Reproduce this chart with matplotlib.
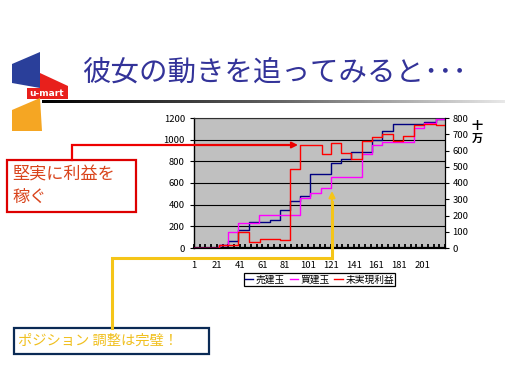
import matplotlib
matplotlib.use('Agg')
import matplotlib.pyplot as plt
import numpy as np
from matplotlib.patches import Polygon, Rectangle
from matplotlib.colors import LinearSegmentedColormap

plt.rcParams['font.family'] = ['Noto Sans CJK JP', 'DejaVu Sans']

# ---------------- data ----------------
title = '彼女の動きを追ってみると･･･'
series_names = ['売建玉', '買建玉', '未実現利益']
x_tick_values = [1, 21, 41, 61, 81, 101, 121, 141, 161, 181, 201]
left_ticks = [0, 200, 400, 600, 800, 1000, 1200]
right_ticks = [0, 100, 200, 300, 400, 500, 600, 700, 800]
right_unit = '十\n万'

# 売建玉 (left axis) - step change points
sell_cats = [1, 23, 31, 40, 49, 68, 76, 85, 94, 103, 121, 130, 139, 157, 166, 175, 203, 213, 221]
sell_vals = [0, 25, 62, 170, 243, 262, 350, 437, 478, 680, 785, 825, 889, 1000, 1078, 1141, 1165, 1190, 1190]

# 買建玉 (left axis)
buy_cats = [1, 23, 31, 40, 58, 94, 103, 112, 121, 148, 157, 166, 194, 203, 213, 221]
buy_vals = [0, 30, 150, 228, 305, 458, 511, 558, 658, 870, 950, 975, 1110, 1150, 1188, 1188]

# 未実現利益 (right axis, 十万)
pnl_cats = [1, 23, 40, 49, 59, 76, 85, 94, 113, 121, 130, 139, 148, 157, 166, 175, 184, 194, 203, 213, 221]
pnl_vals = [0, 19, 100, 38, 56, 50, 484, 636, 577, 647, 585, 548, 657, 685, 700, 657, 690, 758, 765, 760, 760]

red_note = '堅実に利益を\n稼ぐ'
yellow_note = 'ポジション 調整は完璧！'

# ---------------- figure ----------------
W, H = 512, 384
fig = plt.figure(figsize=(5.12, 3.84), dpi=100)
fig.patch.set_facecolor('white')

ax = fig.add_axes([194 / W, 1 - 248 / H, 251 / W, 130 / H])
ax.set_facecolor('#c0c0c0')
l1, = ax.step(sell_cats, sell_vals, where='post', color='#000080', lw=1.0, zorder=3)
l2, = ax.step(buy_cats, buy_vals, where='post', color='#ff00ff', lw=1.0, zorder=3)
ax.set_xlim(1, 221)
ax.set_ylim(0, 1200)
ax.set_yticks(left_ticks)
ax.set_yticklabels([str(v) for v in left_ticks])
ax.yaxis.grid(True, color='black', lw=0.8)
ax.set_axisbelow(True)
ax.set_xticks(x_tick_values)
ax.set_xticklabels([str(v) for v in x_tick_values])
ax.set_xticks(np.arange(1, 222, 5), minor=True)
ax.tick_params(axis='x', which='both', direction='in', length=3, width=1.3,
               color='black', pad=9, labelsize=6.8)
ax.tick_params(axis='y', direction='out', length=3, width=0.8, pad=3.5, labelsize=6.8)
ax.spines['left'].set_color('black'); ax.spines['left'].set_linewidth(1.0)
ax.spines['bottom'].set_color('black'); ax.spines['bottom'].set_linewidth(1.6)
ax.spines['top'].set_color('#303030'); ax.spines['top'].set_linewidth(0.8)
ax.spines['right'].set_visible(False)

ax2 = ax.twinx()
l3, = ax2.step(pnl_cats, pnl_vals, where='post', color='#ff0000', lw=1.0, zorder=3)
ax2.set_ylim(0, 800)
ax2.set_yticks(right_ticks)
ax2.set_yticklabels([str(v) for v in right_ticks])
ax2.tick_params(axis='y', direction='out', length=3, width=0.8, pad=2.5, labelsize=6.8)
for s in ['left', 'top', 'bottom']:
    ax2.spines[s].set_visible(False)
ax2.spines['right'].set_color('black'); ax2.spines['right'].set_linewidth(0.9)

fig.text(477 / W, 1 - 132 / H, right_unit, fontsize=8, fontweight='bold',
         ha='center', va='center', linespacing=0.95)

leg = fig.legend([l1, l2, l3], series_names, loc='center',
                 bbox_to_anchor=(319.5 / W, 1 - 279.5 / H), ncol=3, fontsize=7,
                 frameon=True, fancybox=False, edgecolor='black', framealpha=1,
                 handlelength=0.9, handletextpad=0.25, columnspacing=0.45,
                 borderpad=0.12, borderaxespad=0)
leg.get_frame().set_linewidth(0.9)

# title
fig.text(82 / W, 1 - 73 / H, title, fontsize=20.5, color='#333399',
         ha='left', va='center')

# ---------------- overlay (pixel coords) ----------------
ov = fig.add_axes([0, 0, 1, 1])
ov.set_xlim(0, W)
ov.set_ylim(H, 0)
ov.axis('off')
ov.set_zorder(10)
ov.patch.set_alpha(0)

# gradient rule under title
cmap = LinearSegmentedColormap.from_list('g', ['#000000', '#606060', '#e8e8e8'])
ov.imshow(np.linspace(0, 1, 256)[None, :], extent=(42, 505, 103.5, 101),
          cmap=cmap, aspect='auto', zorder=1)
ov.set_xlim(0, W)
ov.set_ylim(H, 0)

# logo
ov.add_patch(Polygon([(12, 64), (40, 52), (40, 88), (12, 83)], closed=True,
                     facecolor='#2a3f9a', edgecolor='none', zorder=2))
ov.add_patch(Polygon([(40, 73), (68, 86), (68, 99), (27, 99), (27, 88), (40, 88)],
                     closed=True, facecolor='#e8201c', edgecolor='none', zorder=2))
ov.add_patch(Polygon([(40, 98), (12, 110), (12, 131), (42, 131)], closed=True,
                     facecolor='#f5a623', edgecolor='none', zorder=2))
ov.text(47, 94, 'u-mart', fontsize=6.5, fontweight='bold', color='white',
        ha='center', va='center', family='DejaVu Sans', zorder=3)

# red annotation
ov.add_patch(Rectangle((7, 160), 129, 52, facecolor='white', edgecolor='#dd0000',
                       lw=1.6, zorder=4))
ov.text(12, 186, red_note, fontsize=12.3, color='#d9441c', ha='left', va='center',
        linespacing=1.3, zorder=5)
ov.plot([72, 72, 288], [160, 145, 145], color='#ee0000', lw=1.6, zorder=4,
        solid_joinstyle='miter')
ov.annotate('', xy=(298, 145), xytext=(286, 145),
            arrowprops=dict(arrowstyle='-|>', color='#ee0000', lw=1.4,
                            mutation_scale=9, shrinkA=0, shrinkB=0), zorder=4)

# yellow annotation
ov.add_patch(Rectangle((14, 328), 195, 26, facecolor='white', edgecolor='#0a2a55',
                       lw=1.6, zorder=4))
ov.text(18, 341, yellow_note, fontsize=10.3, color='#f0c020', ha='left', va='center',
        zorder=5)
ov.plot([112, 112, 332, 332], [328, 258, 258, 202], color='#f5c518', lw=2.2, zorder=4,
        solid_joinstyle='miter')
ov.annotate('', xy=(332, 191), xytext=(332, 204),
            arrowprops=dict(arrowstyle='-|>', color='#f5c518', lw=1.5,
                            mutation_scale=9, shrinkA=0, shrinkB=0), zorder=4)

fig.savefig('out.png', dpi=100)
